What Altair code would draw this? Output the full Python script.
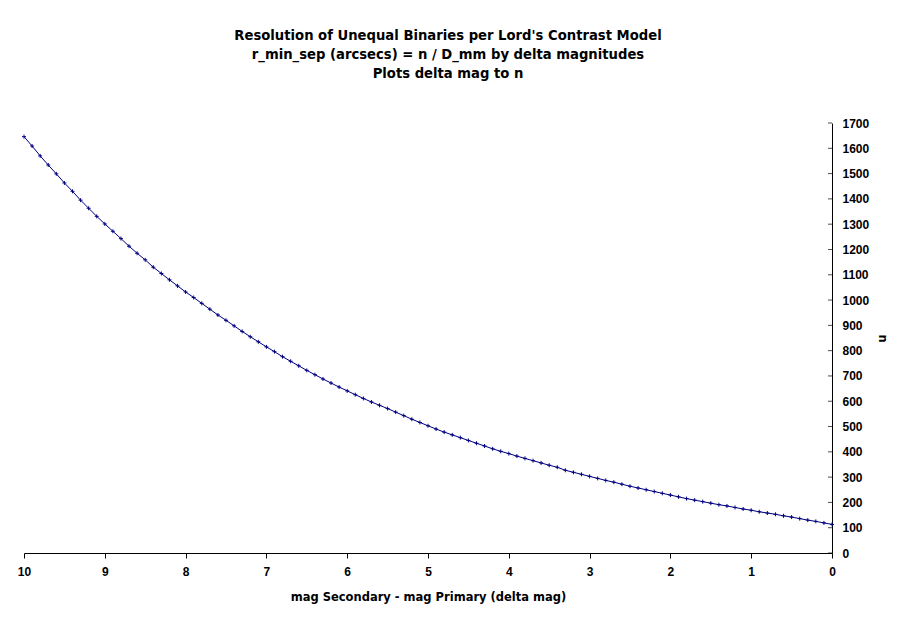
import altair as alt
import pandas as pd

delta_mag = [10.0, 9.9, 9.8, 9.7, 9.6, 9.5, 9.4, 9.3, 9.2, 9.1,
             9.0, 8.9, 8.8, 8.7, 8.6, 8.5, 8.4, 8.3, 8.2, 8.1,
             8.0, 7.9, 7.8, 7.7, 7.6, 7.5, 7.4, 7.3, 7.2, 7.1,
             7.0, 6.9, 6.8, 6.7, 6.6, 6.5, 6.4, 6.3, 6.2, 6.1,
             6.0, 5.9, 5.8, 5.7, 5.6, 5.5, 5.4, 5.3, 5.2, 5.1,
             5.0, 4.9, 4.8, 4.7, 4.6, 4.5, 4.4, 4.3, 4.2, 4.1,
             4.0, 3.9, 3.8, 3.7, 3.6, 3.5, 3.4, 3.3, 3.2, 3.1,
             3.0, 2.9, 2.8, 2.7, 2.6, 2.5, 2.4, 2.3, 2.2, 2.1,
             2.0, 1.9, 1.8, 1.7, 1.6, 1.5, 1.4, 1.3, 1.2, 1.1,
             1.0, 0.9, 0.8, 0.7, 0.6, 0.5, 0.4, 0.3, 0.2, 0.1,
             0.0]

n_values = [1646, 1609, 1570, 1534, 1499, 1463, 1430, 1395, 1363, 1331,
            1301, 1272, 1243, 1213, 1185, 1159, 1130, 1105, 1080, 1056,
            1032, 1010, 987, 964, 941, 920, 898, 876, 855, 835,
            815, 796, 776, 758, 740, 722, 705, 688, 672, 656,
            641, 626, 611, 597, 584, 571, 557, 543, 529, 516,
            503, 490, 478, 467, 456, 445, 434, 423, 412, 402,
            393, 383, 374, 365, 356, 347, 339, 327, 319, 311,
            303, 295, 287, 280, 272, 264, 257, 250, 243, 236,
            229, 222, 215, 209, 203, 197, 191, 186, 180, 174,
            169, 163, 158, 153, 147, 142, 136, 130, 125, 119,
            113]

x_ticks = [0, 1, 2, 3, 4, 5, 6, 7, 8, 9, 10]
y_ticks = [0, 100, 200, 300, 400, 500, 600, 700, 800, 900,
           1000, 1100, 1200, 1300, 1400, 1500, 1600, 1700]

title_lines = [
    "Resolution of Unequal Binaries per Lord's Contrast Model",
    "r_min_sep (arcsecs) = n / D_mm by delta magnitudes",
    "Plots delta mag to n",
]

df = pd.DataFrame({"delta_mag": delta_mag, "n": n_values})
ticks_df = pd.DataFrame({"n": y_ticks})

FONT = "Liberation Sans"
TITLE_FONT = "DejaVu Sans"
NAVY = "#000080"

x_scale = alt.Scale(domain=[0, 10], reverse=True, nice=False, zero=False)
y_scale = alt.Scale(domain=[0, 1700], nice=False)

x_axis = alt.Axis(values=x_ticks, format="d",
                  title="mag Secondary - mag Primary (delta mag)",
                  tickSize=5, labelPadding=8, titlePadding=14,
                  labelFlush=False,
                  titleFont=TITLE_FONT, titleFontSize=11.5)
y_axis = alt.Axis(orient="right", values=y_ticks, format="d",
                  title="n", ticks=False, labelPadding=10,
                  labelFlush=False,
                  titlePadding=8, titleFont=TITLE_FONT, titleFontSize=11.5)

base = alt.Chart(df)

line = base.mark_line(color=NAVY, strokeWidth=1).encode(
    x=alt.X("delta_mag:Q", scale=x_scale, axis=x_axis),
    y=alt.Y("n:Q", scale=y_scale, axis=y_axis),
)

points = base.mark_point(
    shape="M-1,0L1,0M0,-1L0,1", filled=False, size=16,
    color=NAVY, strokeWidth=1, opacity=1
).encode(
    x=alt.X("delta_mag:Q", scale=x_scale, axis=x_axis),
    y=alt.Y("n:Q", scale=y_scale, axis=y_axis),
)

inner_ticks = alt.Chart(ticks_df).mark_tick(
    orient="horizontal", size=4, thickness=1, color="black"
).encode(
    y=alt.Y("n:Q", scale=y_scale, axis=y_axis),
    x=alt.value(806),
)

chart = alt.layer(line, points, inner_ticks).properties(
    width=808,
    height=430,
    autosize=alt.AutoSizeParams(type="none"),
    padding={"left": 16, "top": 115, "right": 60, "bottom": 55},
    title=alt.TitleParams(
        text=title_lines, fontSize=13.2, font=TITLE_FONT, fontWeight="bold",
        color="black", anchor="middle", dx=20, offset=36, lineHeight=19,
    ),
    background="white",
).configure_view(
    stroke=None
).configure_axis(
    domainColor="black", domainWidth=1, tickColor="black", tickWidth=1,
    labelFont=FONT, labelFontSize=12, labelFontWeight="bold",
    labelColor="black", titleFontWeight="bold", titleColor="black",
    grid=False,
)

chart.save("out.html", embed_options={"renderer": "svg", "actions": False})
